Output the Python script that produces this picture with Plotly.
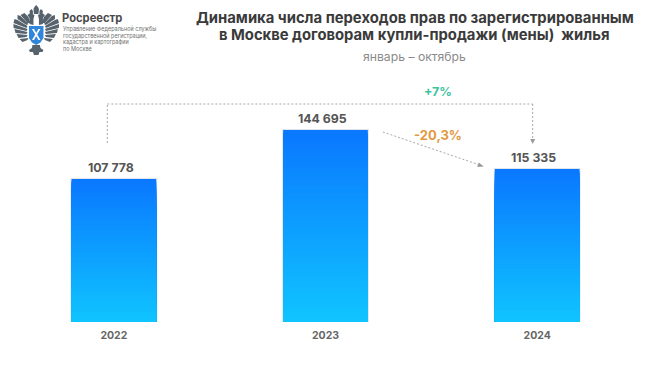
import plotly.graph_objects as go

categories = ["2022", "2023", "2024"]
values = [107778, 144695, 115335]
value_labels = ["107 778", "144 695", "115 335"]
title_lines = ["Динамика числа переходов прав по зарегистрированным",
               "в Москве договорам купли-продажи (мены)  жилья"]
subtitle = "январь – октябрь"
change_total = "+7%"
change_last = "-20,3%"
org_name = "Росреестр"
org_lines = ["Управление Федеральной службы", "государственной регистрации,",
             "кадастра и картографии", "по Москве"]

W, H = 650, 365
L, R, T, B = 7.5, 6.5, 60, 43
FONT = "Inter"
TOP_COL = (10, 120, 255)
BOT_COL = (16, 196, 255)
STEPS = 70
positions = list(range(len(categories)))


def px(x):
    return (x - L) / (W - L - R)


def py(y):
    return (H - B - y) / (H - T - B)


def mix(t):
    c = [round(a + (b - a) * t) for a, b in zip(TOP_COL, BOT_COL)]
    return f"rgb({c[0]},{c[1]},{c[2]})"


fig = go.Figure()
# faint soft edge around each bar
fig.add_trace(go.Bar(x=positions, y=values, width=0.4,
                     marker=dict(color="rgba(0,0,0,0)", line=dict(width=2, color="rgba(110,130,160,0.22)")),
                     hoverinfo="skip", showlegend=False))
for i in range(STEPS):
    frac = 1 - i / STEPS
    fig.add_trace(go.Bar(
        x=positions, y=[v * frac for v in values], width=0.4,
        marker=dict(color=mix(i / (STEPS - 1)), line=dict(width=0)),
        hoverinfo="skip", showlegend=False))

anns = []


def text(x, y, s, size, color, bold=False, anchor="center"):
    anns.append(dict(xref="paper", yref="paper", x=px(x), y=py(y), text=f"<b>{s}</b>" if bold else s,
                     showarrow=False, xanchor=anchor, yanchor="middle",
                     font=dict(family=FONT, size=size, color=color)))


for p, v, lab, dx in zip(positions, values, value_labels, [-3, -3, -3.5]):
    anns.append(dict(x=p, y=v, xref="x", yref="y", text=f"<b>{lab}</b>", showarrow=False, yanchor="bottom",
                     yshift=2, xshift=dx, font=dict(family=FONT, size=12.3, color="#555555")))

text(415, 18, title_lines[0], 14.8, "#3a3a3a", True)
text(414.5, 34.5, title_lines[1], 14.8, "#3a3a3a", True)
text(415, 56.5, subtitle, 12.2, "#8a8a8a")
text(438, 91.5, change_total, 12.4, "#3cc3a0", True)
text(438, 135, change_last, 13, "#e2993f", True)
text(60, 18, org_name, 11.2, "#4a4a4a", True, "left")
for i, line_text in enumerate(org_lines):
    text(60.5, 29 + i * 6.5, line_text, 5.5, "#707070", False, "left")


def line(x0, y0, x1, y1):
    return dict(type="line", xref="paper", yref="paper", x0=px(x0), y0=py(y0), x1=px(x1), y1=py(y1),
                line=dict(color="#a8a8a8", width=1, dash="2px,2px"))


def path(points, fill):
    d = "M" + " L".join(f"{px(x):.5f},{py(y):.5f}" for x, y in points) + " Z"
    return dict(type="path", xref="paper", yref="paper", path=d, fillcolor=fill, line=dict(width=0))


def mirrored(points, fill):
    return [path(points, fill), path([(71.5 - x, y) for x, y in points], fill)]


shapes = [
    line(107, 143, 107, 104), line(107, 104, 533, 104), line(533, 104, 533, 140),
    line(383, 132, 480, 165),
    path([(530.5, 139), (535.5, 139), (533, 144)], "#999999"),
    path([(479, 162.5), (477.5, 167), (484, 166.5)], "#999999"),
]

# emblem: feathers, necks and heads on the left, mirrored around the centre line
DARK = "#56626c"
feathers = [
    [(27, 23), (20, 15), (24, 13), (28, 17), (30, 23)],
    [(26, 25), (17, 19), (17, 15), (20, 16), (28, 24)],
    [(26, 28), (13, 23), (14, 19), (17, 20), (27, 26)],
    [(26, 31), (13, 28), (13, 24), (27, 29)],
    [(26, 34), (15, 33), (14, 29), (27, 32)],
    [(26, 37), (18, 38), (16, 34), (27, 35)],
    [(27, 40), (22, 42), (19, 39), (28, 38)],
]
neck = [(33, 25), (29, 24), (29, 18), (27, 15), (30, 13), (34, 15), (33, 19)]
for f in feathers:
    shapes += mirrored(f, DARK)
shapes += mirrored(neck, DARK)
shapes += [
    path([(33, 9), (34, 7), (35.75, 5), (37.5, 7), (38.5, 9), (38, 14), (33.5, 14)], DARK),
    path([(29, 11), (31, 9), (32.5, 11), (32.5, 14), (29.5, 14)], DARK),
    path([(39, 11), (40.5, 9), (42.5, 11), (42, 14), (39, 14)], DARK),
    path([(32, 45), (39.5, 45), (40, 48), (43, 50), (42, 52), (39, 52), (38, 55), (33.5, 55), (32.5, 52),
          (29.5, 52), (28.5, 50), (31.5, 48)], DARK),
    path([(28.5, 26), (43, 26), (43, 38), (40, 42.5), (35.75, 45), (31.5, 42.5), (28.5, 38)], "#2f86dc"),
    path([(31.5, 29), (33.5, 29), (40, 40), (38, 40)], "#ffffff"),
    path([(38, 29), (40, 29), (33.5, 40), (31.5, 40)], "#ffffff"),
]

fig.update_layout(
    width=W, height=H, barmode="overlay",
    margin=dict(l=L, r=R, t=T, b=B, pad=0), paper_bgcolor="white", plot_bgcolor="white",
    showlegend=False, annotations=anns, shapes=shapes,
    xaxis=dict(range=[-0.5, 2.5], tickmode="array", tickvals=positions, ticktext=categories,
               showgrid=False, zeroline=False, automargin=False,
               showline=False, ticks="", ticklabelstandoff=5,
               tickfont=dict(family=FONT, size=10.5, color="#666666", weight="bold")),
    yaxis=dict(range=[0, 197400], visible=False, showgrid=False, zeroline=False, fixedrange=True),
)
fig.write_html("out.html", config=dict(displayModeBar=False),
               post_script="document.body.style.margin='0';")
